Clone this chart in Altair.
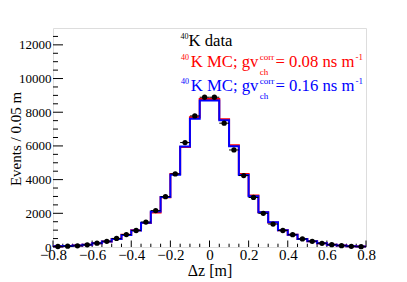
import altair as alt
import pandas as pd
import numpy as np

# ---- data ----
bin_low = [-0.80, -0.75, -0.70, -0.65, -0.60, -0.55, -0.50, -0.45,
           -0.40, -0.35, -0.30, -0.25, -0.20, -0.15, -0.10, -0.05,
           0.00, 0.05, 0.10, 0.15, 0.20, 0.25, 0.30, 0.35,
           0.40, 0.45, 0.50, 0.55, 0.60, 0.65, 0.70, 0.75]
bin_width = 0.05
data_counts = [30, 50, 70, 130, 230, 340, 510, 740, 980, 1480, 2160, 2990,
               4340, 6200, 7780, 8890, 8890, 7350, 5760, 4240, 2940, 2000,
               1360, 980, 730, 480, 340, 220, 140, 80, 40, 20]
mc_red = [40, 55, 85, 140, 230, 330, 480, 720, 990, 1430, 2050, 2950,
          4330, 5930, 7700, 8780, 8780, 7590, 6040, 4340, 3050, 2070,
          1460, 990, 730, 480, 340, 220, 140, 85, 50, 30]
mc_blue = [40, 55, 85, 140, 230, 330, 480, 710, 980, 1440, 2110, 2970,
           4290, 5960, 7620, 8690, 8690, 7520, 5980, 4280, 3020, 2060,
           1465, 990, 730, 480, 340, 220, 140, 85, 50, 30]

y_major = [0, 2000, 4000, 6000, 8000, 10000, 12000]
y_minor = [500, 1000, 1500, 2500, 3000, 3500, 4500, 5000, 5500, 6500, 7000,
           7500, 8500, 9000, 9500, 10500, 11000, 11500, 12500]
x_major = [-0.8, -0.6, -0.4, -0.2, 0.0, 0.2, 0.4, 0.6, 0.8]
x_minor = [-0.75, -0.7, -0.65, -0.55, -0.5, -0.45, -0.35, -0.3, -0.25,
           -0.15, -0.1, -0.05, 0.05, 0.1, 0.15, 0.25, 0.3, 0.35, 0.45,
           0.5, 0.55, 0.65, 0.7, 0.75]

# legend pieces: text, x, y (baseline, px in plot coords), size, color
SUP = 9
BIG = 16.7
legend_pieces = [
    ("40", 127.5, 10.5, 8, "black"),
    ("K data", 135.5, 18.0, BIG, "black"),
    ("40", 128.0, 31.5, 8, "#ff0000"),
    ("K MC; gv", 137.7, 38.7, BIG, "#ff0000"),
    ("corr", 206.8, 31.5, SUP, "#ff0000"),
    ("ch", 206.8, 46.5, SUP, "#ff0000"),
    ("= 0.08 ns m", 222.5, 38.7, BIG, "#ff0000"),
    ("-1", 302.5, 31.5, SUP, "#ff0000"),
    ("40", 128.0, 55.8, 8, "#0000ff"),
    ("K MC; gv", 137.7, 63.0, BIG, "#0000ff"),
    ("corr", 206.8, 55.8, SUP, "#0000ff"),
    ("ch", 206.8, 70.8, SUP, "#0000ff"),
    ("= 0.16 ns m", 222.5, 63.0, BIG, "#0000ff"),
    ("-1", 302.5, 55.8, SUP, "#0000ff"),
]

FONT = "Liberation Serif, Times New Roman, Times, serif"
W, H = 313, 219

# ---- tables ----
lo = np.array(bin_low)
hi = lo + bin_width
cnt = np.array(data_counts, dtype=float)
data_df = pd.DataFrame({
    "lo": lo, "hi": hi, "center": lo + bin_width / 2, "count": cnt,
    "elo": cnt - np.sqrt(cnt), "ehi": cnt + np.sqrt(cnt),
})

def step_df(vals):
    xs = list(bin_low) + [bin_low[-1] + bin_width]
    ys = list(vals) + [vals[-1]]
    return pd.DataFrame({"x": xs, "y": ys})

xs = alt.Scale(domain=[-0.8, 0.8], nice=False, zero=False)
ys = alt.Scale(domain=[0, 13000], nice=False, zero=True)

x_axis = alt.Axis(
    values=x_major, ticks=False, domain=False, grid=False,
    labelExpr="datum.value == 0 ? '0' : format(datum.value, '.1f')",
    labelFont=FONT, labelFontSize=15, labelColor="black",
    labelPadding=12.5, labelBaseline="alphabetic", labelFlush=False,
    labelOverlap=False,
    title="Δz [m]", titleFont=FONT, titleFontSize=16, titleFontWeight="normal",
    titleColor="black", titleY=28.5, titleBaseline="alphabetic",
)
y_axis = alt.Axis(
    values=y_major, format="d", ticks=False, domain=False, grid=False,
    labelFont=FONT, labelFontSize=13, labelColor="black", labelPadding=2,
    labelBaseline="middle", labelFlush=False, labelOverlap=False,
    title="Events / 0.05 m", titleFont=FONT, titleFontSize=15,
    titleFontWeight="normal", titleColor="black", titleX=-38, titleY=110.5,
    titleAngle=270, titleAlign="center", titleBaseline="middle",
)

def X(f):
    return alt.X(f, type="quantitative", scale=xs, axis=x_axis)

def Y(f):
    return alt.Y(f, type="quantitative", scale=ys, axis=y_axis)

layers = []

# tick marks (inside the frame)
ymaj = alt.Chart(pd.DataFrame({"v": y_major})).mark_rule(color="black", strokeWidth=1).encode(
    y=Y("v"), x=alt.value(0), x2=alt.value(10))
ymin = alt.Chart(pd.DataFrame({"v": y_minor})).mark_rule(color="black", strokeWidth=1).encode(
    y=Y("v"), x=alt.value(0), x2=alt.value(5))
xmaj = alt.Chart(pd.DataFrame({"v": x_major})).mark_rule(color="black", strokeWidth=1).encode(
    x=X("v"), y=alt.value(H), y2=alt.value(H - 6.5))
xmin = alt.Chart(pd.DataFrame({"v": x_minor})).mark_rule(color="black", strokeWidth=1).encode(
    x=X("v"), y=alt.value(H), y2=alt.value(H - 3.3))
layers += [ymaj, ymin, xmaj, xmin]

# MC histograms
red = alt.Chart(step_df(mc_red)).mark_line(
    interpolate="step-after", color="#ff0000", strokeWidth=2).encode(x=X("x"), y=Y("y"))
blue = alt.Chart(step_df(mc_blue)).mark_line(
    interpolate="step-after", color="#0000ff", strokeWidth=2).encode(x=X("x"), y=Y("y"))
layers += [red, blue]

# data points with error bars
base = alt.Chart(data_df)
eh = base.mark_rule(color="black", strokeWidth=1).encode(x=X("lo"), x2="hi", y=Y("count"))
ev = base.mark_rule(color="black", strokeWidth=1).encode(x=X("center"), y=Y("elo"), y2="ehi")
pts = base.mark_circle(size=28, color="black", opacity=1).encode(x=X("center"), y=Y("count"))
layers += [eh, ev, pts]

# legend text
for txt, px, py, fs, col in legend_pieces:
    layers.append(
        alt.Chart(pd.DataFrame({"t": [txt]})).mark_text(
            align="left", baseline="alphabetic", font=FONT, fontSize=fs, color=col
        ).encode(x=alt.value(px), y=alt.value(py), text="t:N")
    )

chart = alt.layer(*layers).properties(
    width=W, height=H, autosize="none",
    padding={"left": 45, "top": 20, "right": 30, "bottom": 34},
).configure_view(stroke="black", strokeWidth=1).configure(background="white")

chart.save("out.html", embed_options={"renderer": "svg", "actions": False})
